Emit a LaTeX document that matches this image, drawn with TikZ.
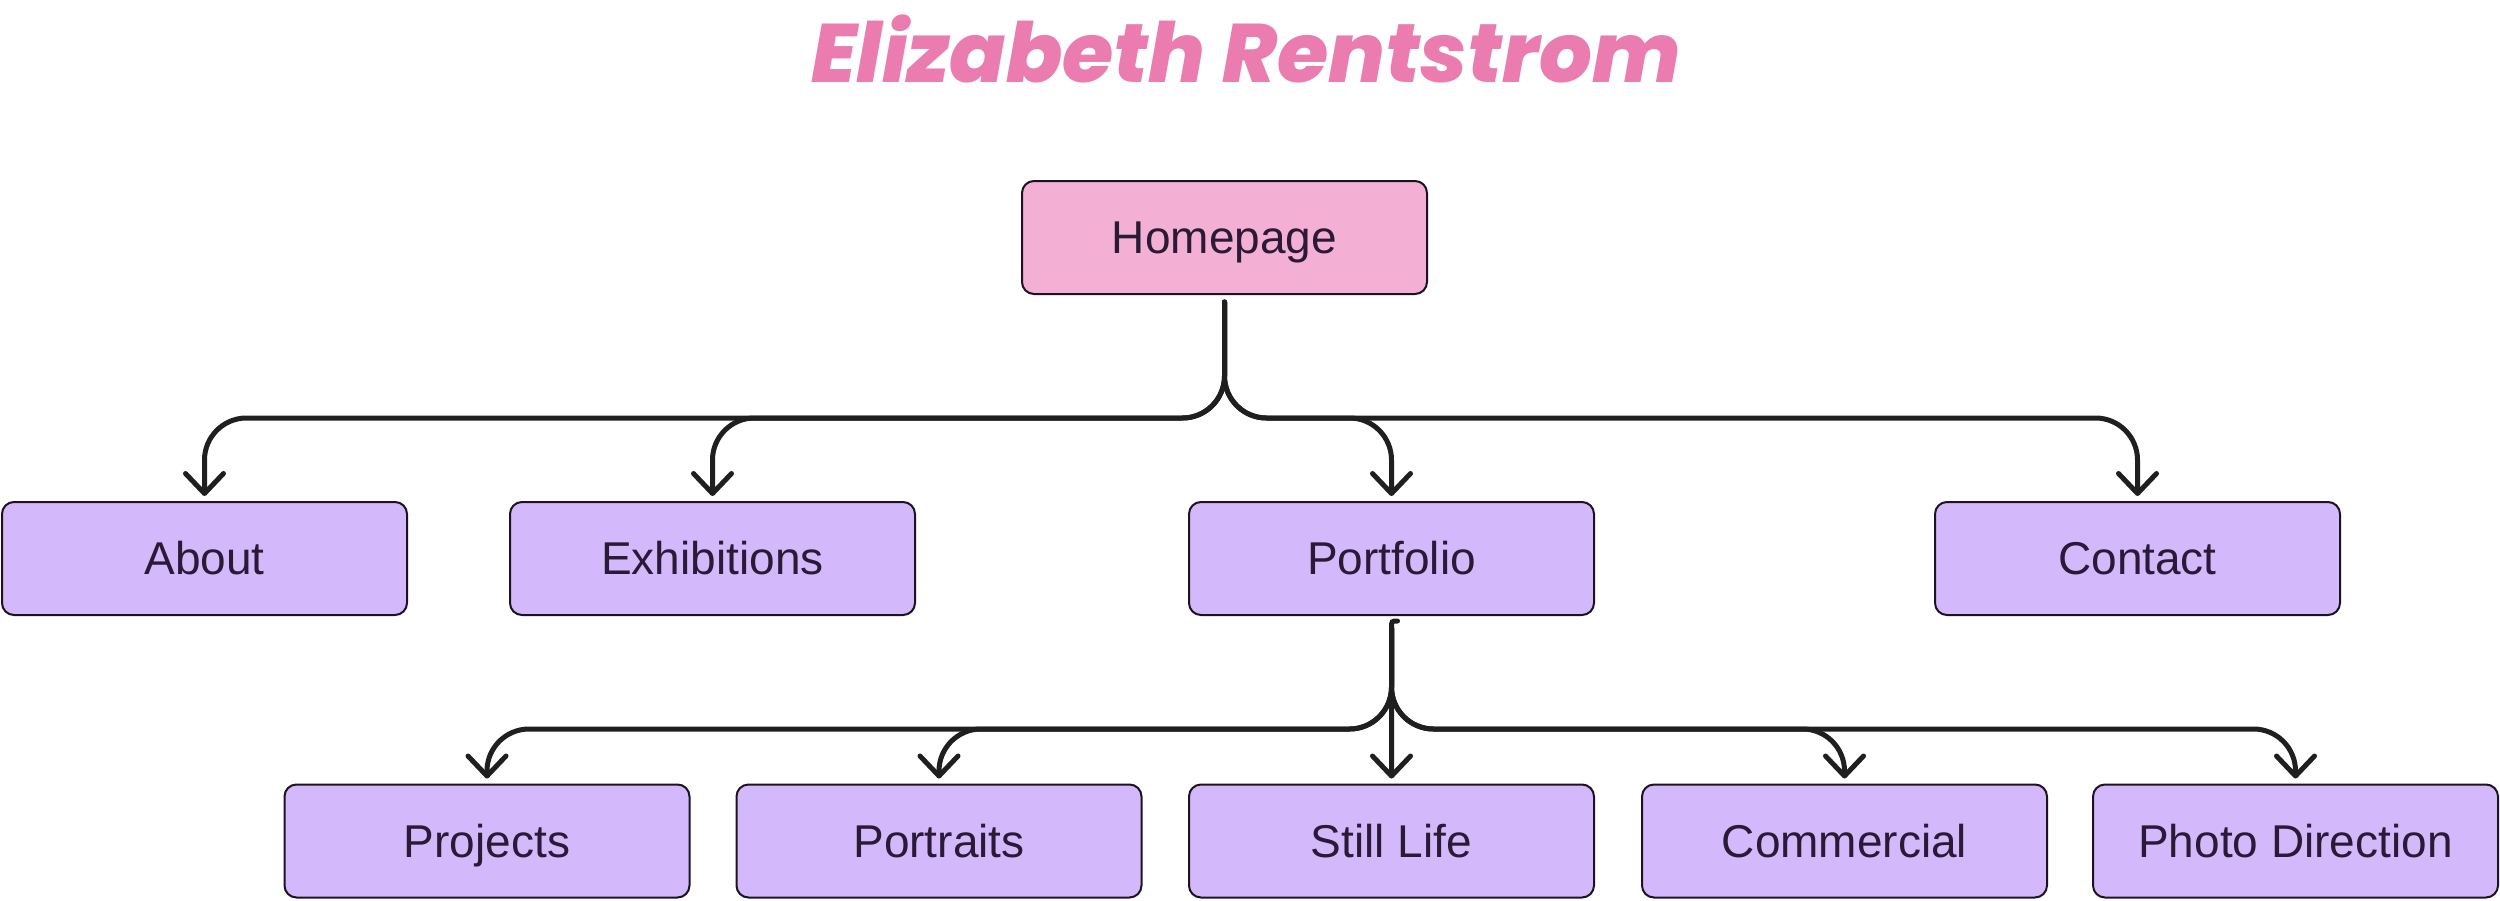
\documentclass[tikz,border=0pt]{standalone}
\usepackage{fontspec}
\setmainfont{Liberation Sans}
\newfontfamily\titlefont{Poppins}[BoldFont={* ExtraBold}, BoldItalicFont={* ExtraBold Italic}]
\usetikzlibrary{arrows.meta}
\definecolor{homefill}{HTML}{F4B0D4}
\definecolor{subfill}{HTML}{D3B9FC}
\definecolor{boxline}{HTML}{1C1220}
\definecolor{txt}{HTML}{2A1A35}
\definecolor{linec}{HTML}{1F1F1F}
\definecolor{titlepink}{HTML}{EA7CB0}
\tikzset{
  pagebox/.style={rectangle, rounded corners=12pt, minimum width=405pt, minimum height=113pt,
    draw=boxline, line width=2pt, text=txt, font=\fontsize{46}{55}\selectfont, inner sep=0pt,
    text height=32pt, text depth=0pt},
  homebox/.style={pagebox, fill=homefill},
  subbox/.style={pagebox, fill=subfill},
  conn/.style={draw=linec, line width=5pt, rounded corners=42pt, line cap=round,
    -{Straight Barb[length=20pt, width=38pt, round]}},
}
\begin{document}
\begin{tikzpicture}[x=1pt, y=-1pt]
\useasboundingbox (0,0) rectangle (2500,900);
\node[text=titlepink, font=\titlefont\bfseries\itshape\fontsize{83}{92}\selectfont, inner sep=0pt, anchor=base] (title) at (1246,82) {Elizabeth Rentstrom};
\node[homebox] (home) at (1224.5,237.5) {Homepage};
\node[subbox] (about) at (204.5,558.5) {About};
\node[subbox] (exh) at (712.5,558.5) {Exhibitions};
\node[subbox] (port) at (1391.5,558.5) {Portfolio};
\node[subbox] (contact) at (2137.5,558.5) {Contact};
\node[subbox] (proj) at (487,841) {Projects};
\node[subbox] (portr) at (939,841) {Portraits};
\node[subbox] (still) at (1391.5,841) {Still Life};
\node[subbox] (comm) at (1844.5,841) {Commercial};
\node[subbox] (photo) at (2295.5,841) {Photo Direction};
\coordinate (b1) at (0,418);
\coordinate (b2) at (0,729);
\coordinate (hs) at ([yshift=-7pt]home.south);
\coordinate (ps) at ([yshift=-12pt]port.south);
\foreach \t in {about,exh,port,contact}{
  \draw[conn] (hs) -- (hs |- b1) -| ([yshift=5pt]\t.north);
}
\foreach \t in {proj,portr,comm,photo}{
  \draw[conn] (ps) -- (ps |- b2) -| ([yshift=5pt]\t.north);
}
\draw[conn, rounded corners=0pt] ([xshift=6pt,yshift=-5pt]port.south) .. controls ([xshift=0pt,yshift=-5pt]port.south) .. (ps) -- ([yshift=5pt]still.north);
\end{tikzpicture}
\end{document}
